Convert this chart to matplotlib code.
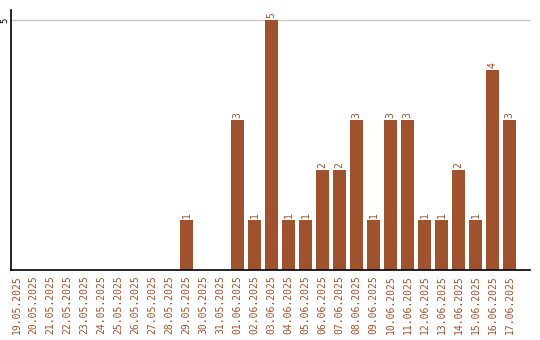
import matplotlib
matplotlib.use("Agg")
import matplotlib.pyplot as plt

dates = ["19.05.2025", "20.05.2025", "21.05.2025", "22.05.2025", "23.05.2025",
         "24.05.2025", "25.05.2025", "26.05.2025", "27.05.2025", "28.05.2025",
         "29.05.2025", "30.05.2025", "31.05.2025", "01.06.2025", "02.06.2025",
         "03.06.2025", "04.06.2025", "05.06.2025", "06.06.2025", "07.06.2025",
         "08.06.2025", "09.06.2025", "10.06.2025", "11.06.2025", "12.06.2025",
         "13.06.2025", "14.06.2025", "15.06.2025", "16.06.2025", "17.06.2025"]
values = [0, 0, 0, 0, 0, 0, 0, 0, 0, 0,
          1, 0, 0, 3, 1, 5, 1, 1, 2, 2,
          3, 1, 3, 3, 1, 1, 2, 1, 4, 3]

color = "#A0522D"
fig = plt.figure(figsize=(5.4, 3.4), dpi=100)
ax = fig.add_axes([11/540, 70/340, 519/540, 260/340])
x = list(range(len(dates)))
ax.bar(x, values, width=0.8, color=color, zorder=2)
for xi, v in zip(x, values):
    if v > 0:
        ax.text(xi, v + 0.04, str(v), rotation=90, ha="center", va="bottom",
                color=color, fontsize=7, family="DejaVu Sans Mono")
ax.set_xlim(-0.32, 30.2)
ax.set_ylim(0, 5.2)
ax.set_yticks([5])
ax.set_yticklabels(["5"], rotation=90, va="center", fontsize=6.5, family="DejaVu Sans Mono")
ax.tick_params(axis="y", length=0, pad=1)
ax.yaxis.grid(True, color="#c8c8c8", linewidth=1, zorder=0)
ax.set_xticks(x)
ax.set_xticklabels(dates, rotation=90, fontsize=7, color=color, family="DejaVu Sans Mono")
ax.tick_params(axis="x", length=0, pad=4)
for s in ["top", "right"]:
    ax.spines[s].set_visible(False)
for s in ["left", "bottom"]:
    ax.spines[s].set_color("black")
    ax.spines[s].set_linewidth(1.2)
fig.savefig("out.png", dpi=100)
